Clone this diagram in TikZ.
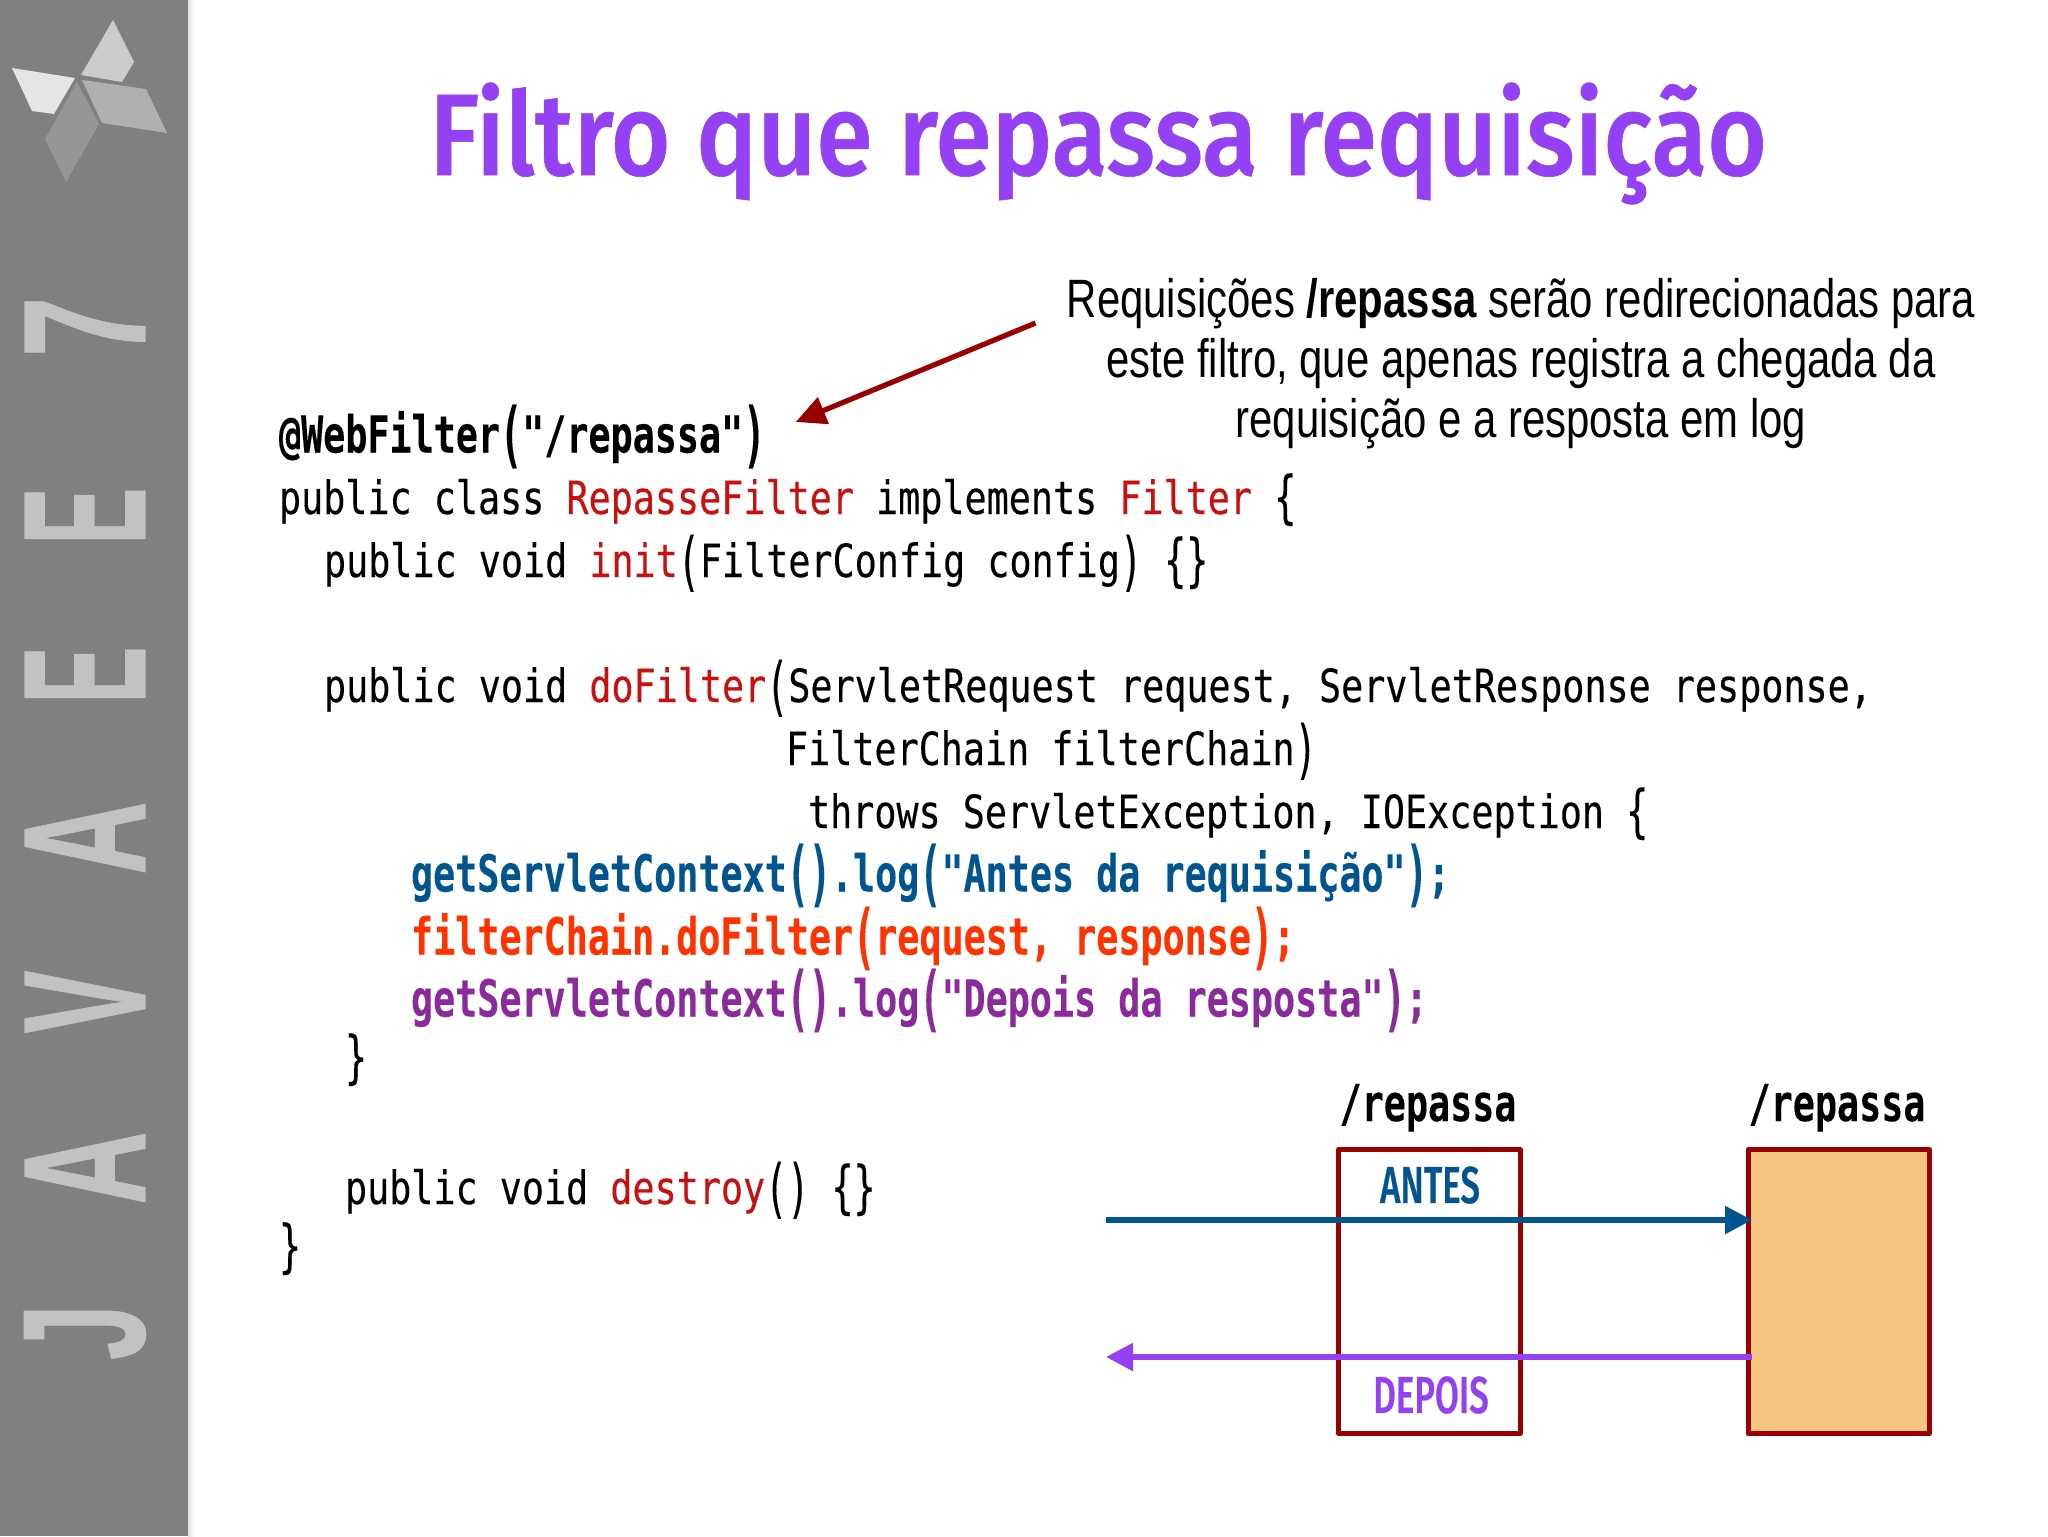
\documentclass[tikz,border=0pt]{standalone}
\usepackage{fontspec}
\usetikzlibrary{arrows.meta}
\usepackage{graphicx}
\newfontfamily\codefont[FakeStretch=0.802,FakeBold=0.25]{DejaVu Sans Mono}
\newfontfamily\codeboldfont[FakeStretch=0.72,FakeBold=0.2]{DejaVu Sans Mono Bold}
\newfontfamily\titlefont[FakeStretch=0.882,FakeBold=0.5]{Fira Sans Medium}
\newfontfamily\boxfont[FakeStretch=0.67,FakeBold=0.5]{Fira Sans Medium}
\newfontfamily\notefont[FakeStretch=0.776]{Liberation Sans}
\newfontfamily\sidefont[FakeBold=0.6]{Liberation Sans}
\newcommand\bigch[1]{\makebox[11.03pt][c]{\raisebox{-3.2pt}{\scalebox{1}[1.4]{#1}}}}
\newcommand\bigbr[1]{\makebox[11.03pt][c]{\raisebox{-1.4pt}{\scalebox{1}[1.25]{#1}}}}
\newcommand\lpr{\bigch{(}}
\newcommand\rpr{\bigch{)}}
\newcommand\lbc{\bigbr{\char`\{}}
\newcommand\rbc{\bigbr{\char`\}}}
\definecolor{sidegray}{HTML}{808080}
\definecolor{sideglyph}{HTML}{C2C2C2}
\definecolor{purpletitle}{HTML}{9440F3}
\definecolor{darkred}{HTML}{990000}
\definecolor{kwred}{HTML}{C9100F}
\definecolor{codeblue}{HTML}{00558F}
\definecolor{codeorange}{HTML}{FF3300}
\definecolor{codepurple}{HTML}{8B2A9B}
\definecolor{boxfill}{HTML}{F5C680}
\tikzset{
  codeline/.style={anchor=base west,inner sep=0pt,outer sep=0pt,font=\codefont\fontsize{22.9}{24}\selectfont},
  boldline/.style={anchor=base west,inner sep=0pt,outer sep=0pt,font=\codeboldfont\fontsize{25.5}{26}\selectfont},
  noteline/.style={anchor=base,inner sep=0pt,font=\notefont\fontsize{27}{30}\selectfont},
  sideletter/.style={rotate=90,inner sep=0pt,outer sep=0pt,text=sideglyph},
  pathbox/.style={draw=darkred,line width=2.5pt,line join=round,inner sep=0pt,outer sep=0pt,minimum width=90.75pt,minimum height=142pt},
  pathlabel/.style={anchor=base,inner sep=0pt,font=\codeboldfont\fontsize{25.5}{26}\selectfont},
  boxlabel/.style={anchor=center,inner sep=0pt,font=\boxfont\fontsize{26}{28}\selectfont},
  flow/.style={line width=2.65pt,-{Triangle[length=13.5pt,width=13.5pt]}},
}
\newcommand\sidechar[4]{\node[sideletter] (#1) at (85,#2) {\resizebox{#3pt}{60pt}{\sidefont\bfseries #4}};}
\begin{document}
\begin{tikzpicture}[x=0.5pt,y=-0.5pt]
\useasboundingbox (0,0) rectangle (2048,1536);
\fill[white] (0,0) rectangle (2048,1536);
% sidebar
\shade[left color=black!12,right color=white] (188,0) rectangle (194,1536);
\fill[sidegray] (0,0) rectangle (188,1536);
\fill[black!20] (113,20) -- (134,62) -- (122,82) -- (81,75) -- cycle;
\fill[black!10] (12,68) -- (75,78) -- (54,114) -- (32,111) -- cycle;
\fill[black!31] (82,80) -- (146,89) -- (167,133) -- (102,123) -- cycle;
\fill[black!41] (77,82) -- (99,124) -- (66,182) -- (45,139) -- cycle;
\sidechar{j}{1332}{28}{J}
\sidechar{a1}{1168}{36.5}{A}
\sidechar{v}{1002}{31.5}{V}
\sidechar{a2}{838}{36.5}{A}
\sidechar{e1}{675}{28.5}{E}
\sidechar{e2}{516}{28.5}{E}
\sidechar{seven}{327}{30}{7}
% title
\node[anchor=base west,inner sep=0pt,text=purpletitle,font=\titlefont\fontsize{58}{62}\selectfont] (title) at (429,175) {Filtro que repassa requisição};
% note
\node[noteline] (n1) at (1521,317) {Requisições {\bfseries /repassa} serão redirecionadas para};
\node[noteline] (n2) at (1521,377) {este filtro, que apenas registra a chegada da};
\node[noteline] (n3) at (1521,437) {requisição e a resposta em log};
% code
\node[boldline] (c1) at (279,452.5) {@WebFilter\lpr"/repassa"\rpr};
\node[codeline] (c2) at (279,514) {public class \textcolor{kwred}{RepasseFilter} implements \textcolor{kwred}{Filter} \lbc};
\node[codeline] (c3) at (324,577) {public void \textcolor{kwred}{init}\lpr FilterConfig config\rpr{} \lbc\rbc};
\node[codeline] (c5) at (324,702) {public void \textcolor{kwred}{doFilter}\lpr ServletRequest request, ServletResponse response,};
\node[codeline] (c6) at (786,765) {FilterChain filterChain\rpr};
\node[codeline] (c7) at (808,828) {throws ServletException, IOException \lbc};
\node[boldline,text=codeblue] (c8) at (411,891.5) {getServletContext\lpr\rpr.log\lpr"Antes da requisição"\rpr;};
\node[boldline,text=codeorange] (c9) at (411,954.5) {filterChain.doFilter\lpr request, response\rpr;};
\node[boldline,text=codepurple] (c10) at (411,1016.5) {getServletContext\lpr\rpr.log\lpr"Depois da resposta"\rpr;};
\node[codeline] (c11) at (345,1074) {\rbc};
\node[codeline] (c13) at (345,1204) {public void \textcolor{kwred}{destroy}\lpr\rpr{} \lbc\rbc};
\node[codeline] (c14) at (279,1263) {\rbc};
% diagram
\node[pathbox] (box1) at (1429.5,1291.5) {};
\node[pathbox,fill=boxfill] (box2) at (1838.75,1291.5) {};
\node[pathlabel] (l1) at (1428,1121) {/repassa};
\node[pathlabel] (l2) at (1837,1121) {/repassa};
\node[boxlabel,text=codeblue] (antes) at (1430,1185) {ANTES};
\node[boxlabel,text=purpletitle] (depois) at (1431,1395) {DEPOIS};
\coordinate (blueS) at (1106,1220);
\coordinate (blueE) at (1752,1220);
\coordinate (purS) at (1752,1357);
\coordinate (purE) at (1106,1357);
\draw[flow,draw=codeblue] (blueS) -- (blueE);
\draw[flow,draw=purpletitle] (purS) -- (purE);
\coordinate (noteS) at (1035.5,323);
\coordinate (noteE) at (795.7,422);
\draw[darkred,line width=2.6pt,-{Triangle[length=15pt,width=14pt]}] (noteS) -- (noteE);
\end{tikzpicture}
\end{document}
